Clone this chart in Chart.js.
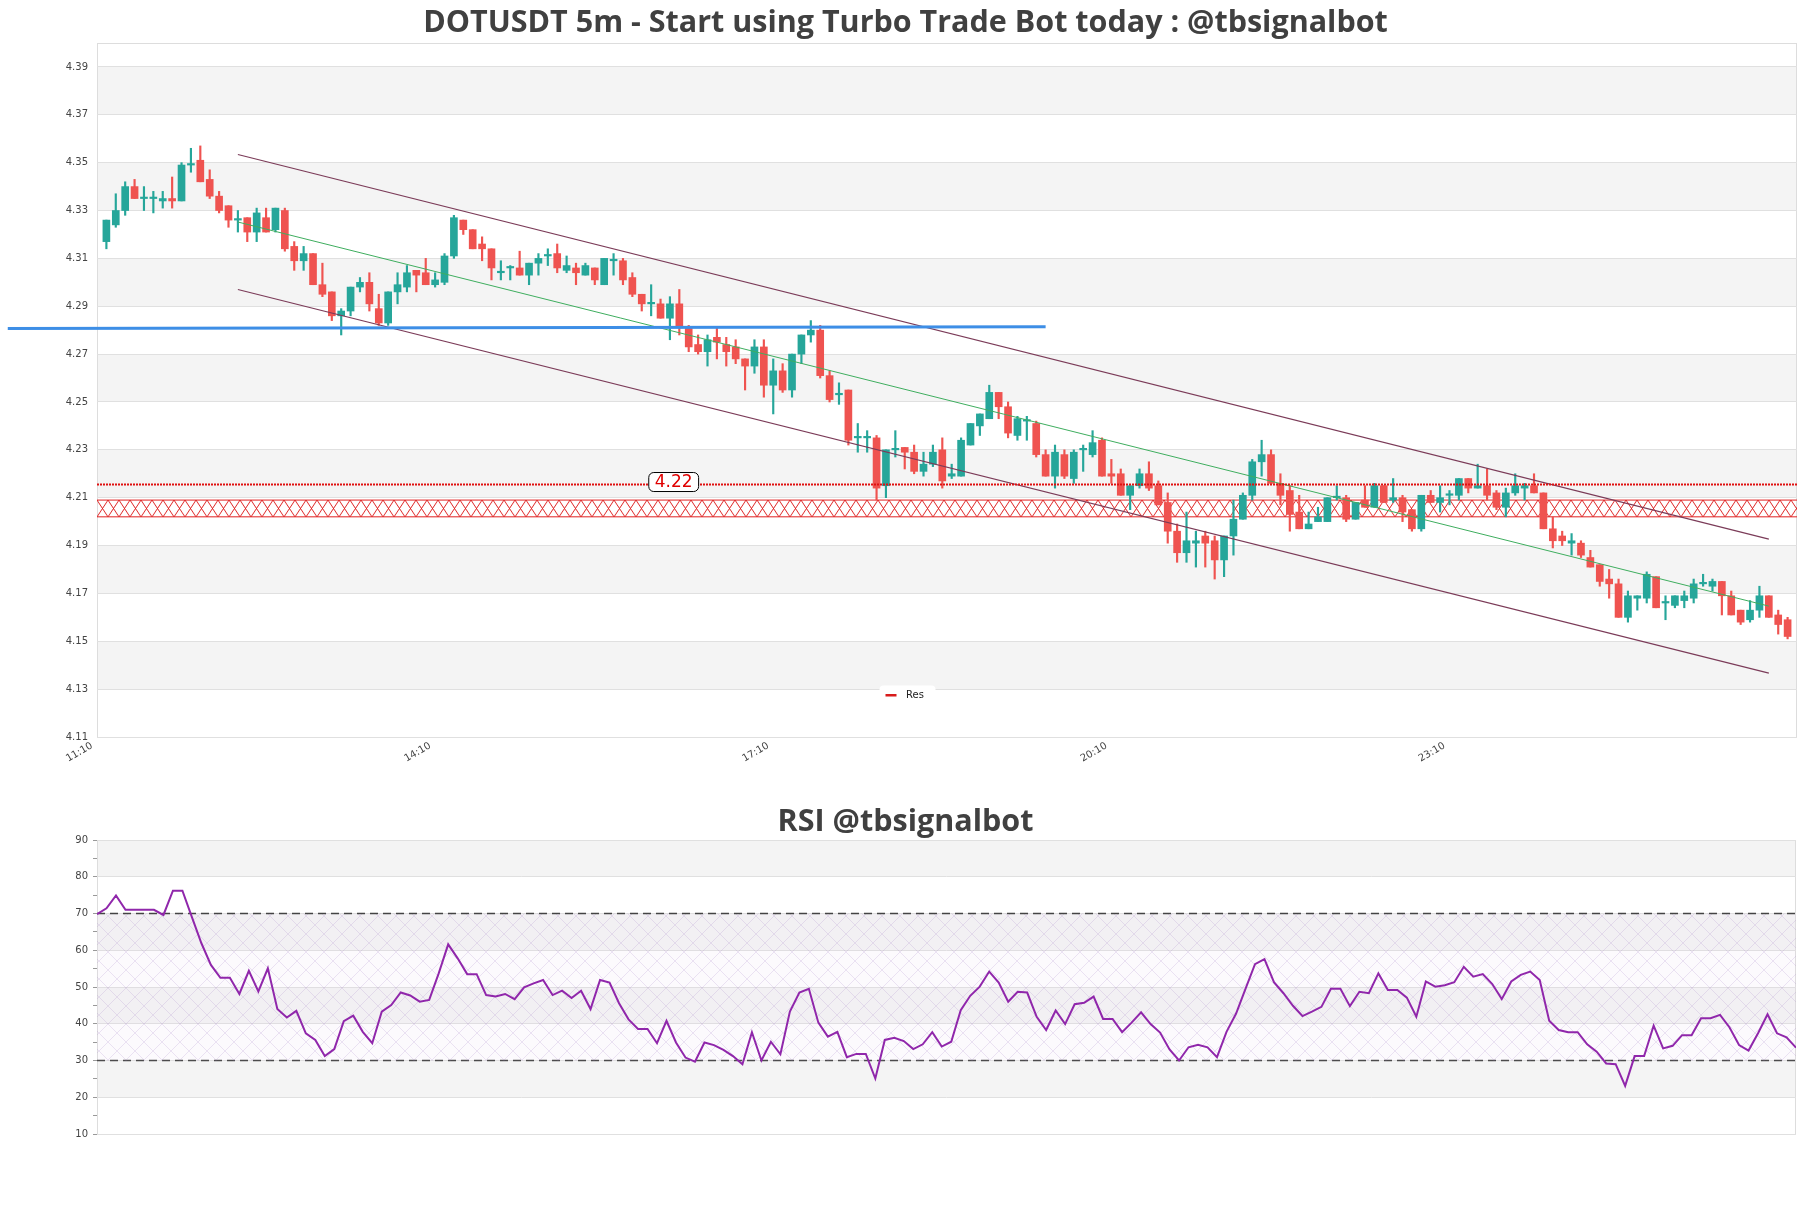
<!DOCTYPE html>
<html>
<head>
<meta charset="utf-8">
<title>DOTUSDT 5m</title>
<script src="https://cdn.jsdelivr.net/npm/chart.js@4/dist/chart.umd.min.js"></script>
<style>
  html, body { margin: 0; padding: 0; background: #fff; }
  #wrap { position: relative; width: 1811px; height: 1208px; overflow: hidden; }
  #priceChart { position: absolute; left: 0; top: 0; }
  #rsiChart { position: absolute; left: 0; top: 790px; }
</style>
</head>
<body>
<div id="wrap">
  <canvas id="priceChart" width="1811" height="790"></canvas>
  <canvas id="rsiChart" width="1811" height="418"></canvas>
</div>
<script>
// ---- data ----
var yTicks = [4.11, 4.13, 4.15, 4.17, 4.19, 4.21, 4.23, 4.25, 4.27, 4.29, 4.31, 4.33, 4.35, 4.37, 4.39];
var tickIndex = [0, 36, 72, 108, 144];
var tickLabels = ['11:10', '14:10', '17:10', '20:10', '23:10'];

var open = [
    4.317, 4.324, 4.330, 4.340, 4.335, 4.335, 4.334, 4.335, 4.334, 4.349,
    4.351, 4.343, 4.336, 4.332, 4.326, 4.327, 4.321, 4.327, 4.322, 4.330,
    4.315, 4.309, 4.312, 4.299, 4.296, 4.286, 4.288, 4.298, 4.300, 4.289,
    4.283, 4.296, 4.298, 4.305, 4.304, 4.299, 4.300, 4.311, 4.326, 4.322,
    4.316, 4.314, 4.304, 4.306, 4.306, 4.303, 4.308, 4.311, 4.312, 4.305,
    4.306, 4.303, 4.306, 4.299, 4.309, 4.309, 4.302, 4.295, 4.291, 4.291,
    4.285, 4.291, 4.281, 4.274, 4.271, 4.277, 4.274, 4.273, 4.268, 4.265,
    4.273, 4.257, 4.263, 4.255, 4.270, 4.278, 4.280, 4.261, 4.253, 4.255,
    4.235, 4.235, 4.235, 4.215, 4.230, 4.231, 4.229, 4.221, 4.224, 4.230,
    4.219, 4.219, 4.232, 4.240, 4.243, 4.254, 4.248, 4.236, 4.242, 4.241,
    4.228, 4.219, 4.228, 4.218, 4.230, 4.228, 4.234, 4.220, 4.220, 4.211,
    4.215, 4.220, 4.215, 4.208, 4.196, 4.187, 4.191, 4.194, 4.192, 4.184,
    4.194, 4.201, 4.211, 4.225, 4.228, 4.216, 4.213, 4.204, 4.197, 4.200,
    4.200, 4.210, 4.210, 4.201, 4.209, 4.206, 4.215, 4.209, 4.210, 4.205,
    4.197, 4.211, 4.208, 4.211, 4.211, 4.218, 4.214, 4.215, 4.212, 4.206,
    4.212, 4.214, 4.215, 4.212, 4.197, 4.194, 4.191, 4.191, 4.185, 4.182,
    4.176, 4.174, 4.160, 4.168, 4.168, 4.177, 4.166, 4.165, 4.167, 4.168,
    4.174, 4.173, 4.175, 4.169, 4.163, 4.159, 4.163, 4.169, 4.161, 4.159
];
var high = [
    4.326, 4.337, 4.342, 4.343, 4.340, 4.338, 4.338, 4.344, 4.350, 4.356,
    4.357, 4.347, 4.338, 4.332, 4.330, 4.327, 4.331, 4.331, 4.331, 4.331,
    4.317, 4.315, 4.312, 4.308, 4.296, 4.289, 4.298, 4.302, 4.304, 4.295,
    4.296, 4.304, 4.307, 4.305, 4.310, 4.304, 4.312, 4.328, 4.326, 4.322,
    4.319, 4.314, 4.309, 4.307, 4.313, 4.308, 4.312, 4.314, 4.316, 4.311,
    4.308, 4.308, 4.306, 4.310, 4.312, 4.310, 4.304, 4.295, 4.299, 4.293,
    4.294, 4.297, 4.282, 4.278, 4.278, 4.281, 4.277, 4.276, 4.268, 4.276,
    4.276, 4.268, 4.266, 4.270, 4.278, 4.284, 4.282, 4.263, 4.258, 4.255,
    4.241, 4.238, 4.236, 4.230, 4.238, 4.231, 4.232, 4.229, 4.232, 4.235,
    4.224, 4.235, 4.241, 4.245, 4.257, 4.254, 4.250, 4.244, 4.244, 4.242,
    4.230, 4.232, 4.230, 4.230, 4.232, 4.238, 4.235, 4.226, 4.222, 4.215,
    4.222, 4.225, 4.217, 4.212, 4.199, 4.204, 4.196, 4.196, 4.194, 4.194,
    4.209, 4.212, 4.226, 4.234, 4.230, 4.220, 4.215, 4.211, 4.204, 4.206,
    4.210, 4.215, 4.211, 4.208, 4.215, 4.216, 4.215, 4.218, 4.211, 4.205,
    4.211, 4.213, 4.215, 4.213, 4.218, 4.218, 4.224, 4.222, 4.213, 4.214,
    4.220, 4.216, 4.220, 4.212, 4.202, 4.196, 4.195, 4.192, 4.188, 4.182,
    4.180, 4.176, 4.171, 4.169, 4.179, 4.177, 4.169, 4.169, 4.171, 4.176,
    4.178, 4.176, 4.175, 4.171, 4.163, 4.167, 4.173, 4.169, 4.163, 4.160
];
var low = [
    4.314, 4.323, 4.328, 4.335, 4.330, 4.329, 4.331, 4.331, 4.334, 4.346,
    4.342, 4.335, 4.329, 4.323, 4.321, 4.317, 4.317, 4.321, 4.321, 4.313,
    4.305, 4.305, 4.299, 4.294, 4.284, 4.278, 4.286, 4.296, 4.288, 4.282,
    4.282, 4.291, 4.296, 4.296, 4.299, 4.298, 4.299, 4.310, 4.320, 4.314,
    4.309, 4.301, 4.301, 4.301, 4.303, 4.299, 4.303, 4.307, 4.304, 4.304,
    4.299, 4.303, 4.299, 4.299, 4.303, 4.299, 4.294, 4.288, 4.286, 4.285,
    4.276, 4.278, 4.271, 4.270, 4.265, 4.268, 4.265, 4.266, 4.255, 4.262,
    4.252, 4.245, 4.254, 4.252, 4.266, 4.275, 4.260, 4.250, 4.249, 4.232,
    4.229, 4.229, 4.209, 4.210, 4.227, 4.222, 4.220, 4.219, 4.223, 4.214,
    4.218, 4.219, 4.232, 4.236, 4.243, 4.243, 4.235, 4.234, 4.234, 4.227,
    4.219, 4.214, 4.218, 4.216, 4.221, 4.227, 4.219, 4.216, 4.211, 4.205,
    4.214, 4.213, 4.207, 4.191, 4.183, 4.183, 4.181, 4.181, 4.176, 4.177,
    4.186, 4.201, 4.209, 4.219, 4.216, 4.207, 4.196, 4.197, 4.197, 4.200,
    4.200, 4.209, 4.200, 4.201, 4.206, 4.206, 4.208, 4.208, 4.200, 4.196,
    4.196, 4.208, 4.204, 4.207, 4.209, 4.212, 4.214, 4.209, 4.205, 4.202,
    4.211, 4.209, 4.212, 4.197, 4.189, 4.190, 4.186, 4.185, 4.181, 4.173,
    4.168, 4.160, 4.158, 4.163, 4.166, 4.164, 4.159, 4.164, 4.164, 4.166,
    4.173, 4.171, 4.161, 4.161, 4.157, 4.158, 4.160, 4.160, 4.153, 4.151
];
var close = [
    4.326, 4.330, 4.340, 4.335, 4.335, 4.335, 4.335, 4.334, 4.349, 4.349,
    4.342, 4.336, 4.330, 4.326, 4.326, 4.321, 4.329, 4.321, 4.331, 4.314,
    4.309, 4.312, 4.299, 4.295, 4.286, 4.288, 4.298, 4.300, 4.291, 4.283,
    4.296, 4.299, 4.304, 4.303, 4.299, 4.301, 4.311, 4.327, 4.322, 4.314,
    4.314, 4.306, 4.304, 4.306, 4.303, 4.308, 4.310, 4.311, 4.306, 4.307,
    4.304, 4.307, 4.301, 4.310, 4.309, 4.301, 4.295, 4.291, 4.291, 4.285,
    4.291, 4.281, 4.273, 4.271, 4.276, 4.275, 4.271, 4.268, 4.265, 4.273,
    4.257, 4.263, 4.255, 4.270, 4.278, 4.280, 4.261, 4.251, 4.253, 4.234,
    4.235, 4.235, 4.214, 4.230, 4.230, 4.229, 4.221, 4.224, 4.229, 4.217,
    4.220, 4.234, 4.241, 4.245, 4.254, 4.248, 4.237, 4.243, 4.242, 4.228,
    4.219, 4.229, 4.219, 4.229, 4.230, 4.233, 4.219, 4.219, 4.211, 4.215,
    4.220, 4.214, 4.207, 4.196, 4.187, 4.192, 4.192, 4.191, 4.184, 4.194,
    4.201, 4.211, 4.225, 4.228, 4.216, 4.211, 4.203, 4.197, 4.199, 4.202,
    4.210, 4.210, 4.201, 4.208, 4.206, 4.215, 4.208, 4.210, 4.204, 4.197,
    4.211, 4.208, 4.210, 4.211, 4.218, 4.214, 4.215, 4.211, 4.206, 4.212,
    4.215, 4.215, 4.212, 4.197, 4.192, 4.192, 4.192, 4.186, 4.181, 4.175,
    4.174, 4.160, 4.169, 4.169, 4.178, 4.164, 4.166, 4.169, 4.169, 4.174,
    4.174, 4.175, 4.169, 4.161, 4.158, 4.163, 4.169, 4.160, 4.157, 4.152
];

var rsi = [
    69.8, 71.4, 74.9, 71.0, 71.0, 71.0, 71.0, 69.6, 76.2, 76.2,
    69.0, 61.9, 56.0, 52.5, 52.5, 48.1, 54.4, 48.8, 55.1, 44.0,
    41.7, 43.5, 37.4, 35.6, 31.2, 33.1, 40.7, 42.2, 37.8, 34.7,
    43.3, 45.1, 48.5, 47.7, 46.0, 46.5, 53.7, 61.6, 57.8, 53.5,
    53.5, 47.8, 47.4, 48.1, 46.7, 49.9, 51.0, 51.9, 47.8, 49.0,
    47.0, 49.0, 44.0, 51.9, 51.2, 45.6, 41.2, 38.6, 38.6, 34.7,
    40.8, 34.9, 30.8, 29.7, 34.9, 34.2, 32.9, 31.2, 29.0, 37.7,
    30.0, 35.1, 31.7, 43.3, 48.5, 49.5, 40.3, 36.5, 37.8, 30.9,
    31.8, 31.8, 25.1, 35.6, 36.2, 35.3, 33.1, 34.4, 37.7, 33.8,
    35.1, 43.7, 47.6, 50.1, 54.2, 51.2, 46.0, 48.7, 48.5, 41.9,
    38.3, 43.6, 39.9, 45.3, 45.7, 47.4, 41.3, 41.3, 37.7, 40.3,
    43.1, 39.9, 37.6, 33.0, 30.0, 33.6, 34.3, 33.6, 30.9, 37.8,
    42.7, 49.5, 56.2, 57.6, 51.3, 48.3, 44.9, 42.1, 43.3, 44.6,
    49.5, 49.5, 44.8, 48.7, 48.3, 53.7, 49.2, 49.2, 47.1, 41.9,
    51.5, 50.1, 50.5, 51.3, 55.5, 52.8, 53.5, 50.8, 46.7, 51.5,
    53.3, 54.2, 51.9, 40.8, 38.3, 37.7, 37.7, 34.4, 32.4, 29.2,
    29.0, 23.1, 31.2, 31.2, 39.5, 33.3, 34.0, 36.9, 36.9, 41.5,
    41.5, 42.4, 39.0, 34.2, 32.7, 37.4, 42.6, 37.4, 36.3, 33.5
];
var rsiGrid = [10, 20, 30, 40, 50, 60, 70, 80, 90];
var rsiHigh = 70, rsiLow = 30;

// drawn levels and trend channel (x is the candle slot)
var resLevel = 4.2155;
var resLabelAt = 61.4;
var zoneTop = 4.209, zoneBottom = 4.202;
var blueLineX = [-9.5, 101];
var blueLineY = [4.2807, 4.2814];
var channelX = [15, 178];
var upperY = [4.3534, 4.1927];
var midY = [4.3252, 4.1647];
var lowerY = [4.2970, 4.1367];

// ---- styling ----
var FONT = "'DejaVu Sans', sans-serif";
var TITLE_FONT = "'Open Sans', sans-serif";
var UP = '#26a69a', DOWN = '#ef5350';
Chart.defaults.font.family = FONT;
Chart.defaults.color = '#444';

function pts(xs, ys) {
    return xs.map(function (x, i) { return {x: x, y: ys[i]}; });
}

function latticeTile(w, h, color, bg) {
    var c = document.createElement('canvas');
    c.width = w;
    c.height = h;
    var g = c.getContext('2d');
    if (bg) {
        g.fillStyle = bg;
        g.fillRect(0, 0, w, h);
    }
    g.strokeStyle = color;
    g.lineWidth = 1;
    g.beginPath();
    g.moveTo(0, 0); g.lineTo(w, h);
    g.moveTo(w, 0); g.lineTo(0, h);
    g.stroke();
    return c;
}

// empty axis on the right, only to leave a margin without shifting the title
function rightMargin(width) {
    return {
        type: 'linear', position: 'right', display: true,
        grid: {display: false}, border: {display: false}, ticks: {display: false},
        afterFit: function (scale) { scale.width = width; }
    };
}

// alternating grey bands and the plot frame
var bandsPlugin = {
    id: 'bands',
    beforeDraw: function (chart, args, opts) {
        var ctx = chart.ctx, a = chart.chartArea, y = chart.scales.y;
        ctx.save();
        ctx.fillStyle = '#ffffff';
        ctx.fillRect(0, 0, chart.width, chart.height);
        for (var i = 0; i < opts.edges.length - 1; i++) {
            if (i % 2 === 1) {
                var top = y.getPixelForValue(opts.edges[i + 1]);
                var bottom = y.getPixelForValue(opts.edges[i]);
                ctx.fillStyle = '#f4f4f4';
                ctx.fillRect(a.left, top, a.right - a.left, bottom - top);
            }
        }
        // keep the zone hatch lined up with the zone
        if (opts.pattern) {
            var pTop = y.getPixelForValue(opts.patternTop);
            var pBottom = y.getPixelForValue(opts.patternBottom);
            opts.pattern.setTransform(new DOMMatrix([1, 0, 0, (pBottom - pTop) / opts.tileHeight, a.left, pTop]));
        }
        ctx.strokeStyle = '#dddddd';
        ctx.lineWidth = 1;
        ctx.strokeRect(Math.round(a.left) + 0.5, Math.round(a.top) + 0.5,
            Math.round(a.right - a.left) - 1, Math.round(a.bottom - a.top));
        ctx.restore();
    }
};

// price label on the resistance line and the small legend
var resLabelPlugin = {
    id: 'resLabel',
    afterDraw: function (chart) {
        var ctx = chart.ctx, x = chart.scales.x, y = chart.scales.y, a = chart.chartArea;
        var text = resLevel.toFixed(2);
        var cx = x.getPixelForValue(resLabelAt);
        var cy = y.getPixelForValue(resLevel) - 2.5;
        ctx.save();
        ctx.font = '17px ' + FONT;
        var w = ctx.measureText(text).width + 12, h = 19;
        ctx.beginPath();
        ctx.roundRect(cx - w / 2, cy - h / 2, w, h, 5);
        ctx.fillStyle = '#ffffff';
        ctx.fill();
        ctx.strokeStyle = '#000000';
        ctx.lineWidth = 1;
        ctx.stroke();
        ctx.fillStyle = '#e00000';
        ctx.textAlign = 'center';
        ctx.textBaseline = 'middle';
        ctx.fillText(text, cx, cy + 1);

        // legend
        var label = chart.data.datasets[0].label;
        var lx = chart.width / 2, ly = a.bottom - 43;
        ctx.font = '10px ' + FONT;
        ctx.beginPath();
        ctx.roundRect(lx - 26, ly - 8.5, 56, 17, 4);
        ctx.fillStyle = '#ffffff';
        ctx.fill();
        ctx.fillStyle = '#d81b1b';
        ctx.fillRect(lx - 20, ly, 11, 2.5);
        ctx.fillStyle = '#222222';
        ctx.textAlign = 'left';
        ctx.fillText(label, lx + 0.5, ly + 1);
        ctx.restore();
    }
};

// ---- price chart ----
var priceCanvas = document.getElementById('priceChart');
var zoneTileH = 17;
var zonePattern = priceCanvas.getContext('2d').createPattern(latticeTile(11, zoneTileH, 'rgba(220,25,25,0.95)'), 'repeat');

var candleColors = close.map(function (c, i) { return c >= open[i] ? UP : DOWN; });
var wickData = low.map(function (l, i) { return {x: i + 1, y: [l, high[i]]}; });
var bodyData = open.map(function (o, i) { return {x: i + 1, y: [o, close[i]]}; });

new Chart(priceCanvas, {
    type: 'bar',
    data: {
        datasets: [
            {
                type: 'line', label: 'Res', data: pts([0, 181], [resLevel, resLevel]),
                borderColor: '#e01010', borderWidth: 2, borderDash: [2, 1], pointRadius: 0
            },
            {
                type: 'line', label: 'level', data: pts(blueLineX, blueLineY), clip: false,
                borderColor: '#3d8ee6', borderWidth: 3, pointRadius: 0
            },
            {
                type: 'line', label: 'upper', data: pts(channelX, upperY),
                borderColor: '#7b3b58', borderWidth: 1.2, pointRadius: 0
            },
            {
                type: 'line', label: 'mid', data: pts(channelX, midY),
                borderColor: '#3fae5f', borderWidth: 1, pointRadius: 0
            },
            {
                type: 'line', label: 'lower', data: pts(channelX, lowerY),
                borderColor: '#7b3b58', borderWidth: 1.2, pointRadius: 0
            },
            {
                label: 'body', data: bodyData, backgroundColor: candleColors,
                barThickness: 7, minBarLength: 1.5, grouped: false, borderWidth: 0
            },
            {
                label: 'wick', data: wickData, backgroundColor: candleColors,
                barThickness: 1.5, grouped: false, borderWidth: 0
            },
            {
                type: 'line', label: 'zone top', data: pts([0, 181], [zoneTop, zoneTop]),
                borderColor: '#e02020', borderWidth: 1, pointRadius: 0,
                fill: '+1', backgroundColor: zonePattern
            },
            {
                type: 'line', label: 'zone bottom', data: pts([0, 181], [zoneBottom, zoneBottom]),
                borderColor: '#e02020', borderWidth: 1, pointRadius: 0
            }
        ]
    },
    options: {
        responsive: false,
        animation: false,
        events: [],
        layout: {padding: 0},
        plugins: {
            title: {
                display: true,
                text: 'DOTUSDT 5m - Start using Turbo Trade Bot today : @tbsignalbot',
                color: '#404040',
                font: {family: TITLE_FONT, size: 30.5, weight: 'bold', lineHeight: 1.1},
                padding: {top: 7, bottom: 2.45}
            },
            legend: {display: false},
            tooltip: {enabled: false},
            bands: {
                edges: yTicks, pattern: zonePattern, tileHeight: zoneTileH,
                patternTop: zoneTop, patternBottom: zoneBottom
            }
        },
        scales: {
            x: {
                type: 'linear', min: 0, max: 181, offset: false,
                grid: {display: false, drawTicks: false}, border: {display: false},
                afterBuildTicks: function (scale) {
                    scale.ticks = tickIndex.map(function (v) { return {value: v}; });
                },
                afterFit: function (scale) { scale.height = 53; },
                ticks: {
                    autoSkip: false, minRotation: 30, maxRotation: 30, padding: 3, labelOffset: -5,
                    color: '#444', font: {size: 10},
                    callback: function (v) { return tickLabels[tickIndex.indexOf(v)]; }
                }
            },
            y: {
                type: 'linear', min: 4.11, max: 4.40,
                grid: {color: '#e0e0e0', drawTicks: false}, border: {display: false},
                afterBuildTicks: function (scale) {
                    scale.ticks = yTicks.map(function (v) { return {value: v}; });
                },
                afterFit: function (scale) { scale.width = 97; },
                ticks: {
                    padding: 9, color: '#444', font: {size: 10},
                    callback: function (v) { return v.toFixed(2); }
                }
            },
            pad: rightMargin(14)
        }
    },
    plugins: [bandsPlugin, resLabelPlugin]
});

// ---- RSI chart ----
var rsiCanvas = document.getElementById('rsiChart');
var rsiPattern = rsiCanvas.getContext('2d').createPattern(
    latticeTile(18, 18, 'rgba(175,135,205,0.22)', 'rgba(225,205,240,0.10)'), 'repeat');

new Chart(rsiCanvas, {
    type: 'line',
    data: {
        datasets: [
            {
                label: 'RSI', data: rsi.map(function (v, j) { return {x: j, y: v}; }),
                borderColor: '#9027ab', borderWidth: 2, pointRadius: 0, tension: 0
            },
            {
                label: 'overbought', data: pts([0, rsi.length - 1], [rsiHigh, rsiHigh]),
                borderColor: '#444444', borderWidth: 1.3, borderDash: [8, 5], pointRadius: 0,
                fill: '+1', backgroundColor: rsiPattern
            },
            {
                label: 'oversold', data: pts([0, rsi.length - 1], [rsiLow, rsiLow]),
                borderColor: '#444444', borderWidth: 1.3, borderDash: [8, 5], pointRadius: 0
            }
        ]
    },
    options: {
        responsive: false,
        animation: false,
        events: [],
        layout: {padding: {left: 0, right: 0, top: 0, bottom: 74}},
        plugins: {
            title: {
                display: true,
                text: 'RSI @tbsignalbot',
                color: '#404040',
                font: {family: TITLE_FONT, size: 30.5, weight: 'bold', lineHeight: 1.1},
                padding: {top: 15.5, bottom: 0.95}
            },
            legend: {display: false},
            tooltip: {enabled: false},
            bands: {edges: rsiGrid}
        },
        scales: {
            x: {type: 'linear', min: 0, max: rsi.length - 1, display: false},
            y: {
                type: 'linear', min: 10, max: 90,
                border: {display: false},
                grid: {
                    color: function (c) { return c.tick && c.tick.value % 10 === 0 ? '#e0e0e0' : 'rgba(0,0,0,0)'; },
                    tickColor: '#999999', tickLength: 4, drawTicks: true
                },
                afterFit: function (scale) { scale.width = 97; },
                ticks: {
                    stepSize: 5, padding: 5, color: '#444', font: {size: 10},
                    callback: function (v) { return v % 10 === 0 ? v : ''; }
                }
            },
            pad: rightMargin(15)
        }
    },
    plugins: [bandsPlugin]
});
</script>
</body>
</html>
